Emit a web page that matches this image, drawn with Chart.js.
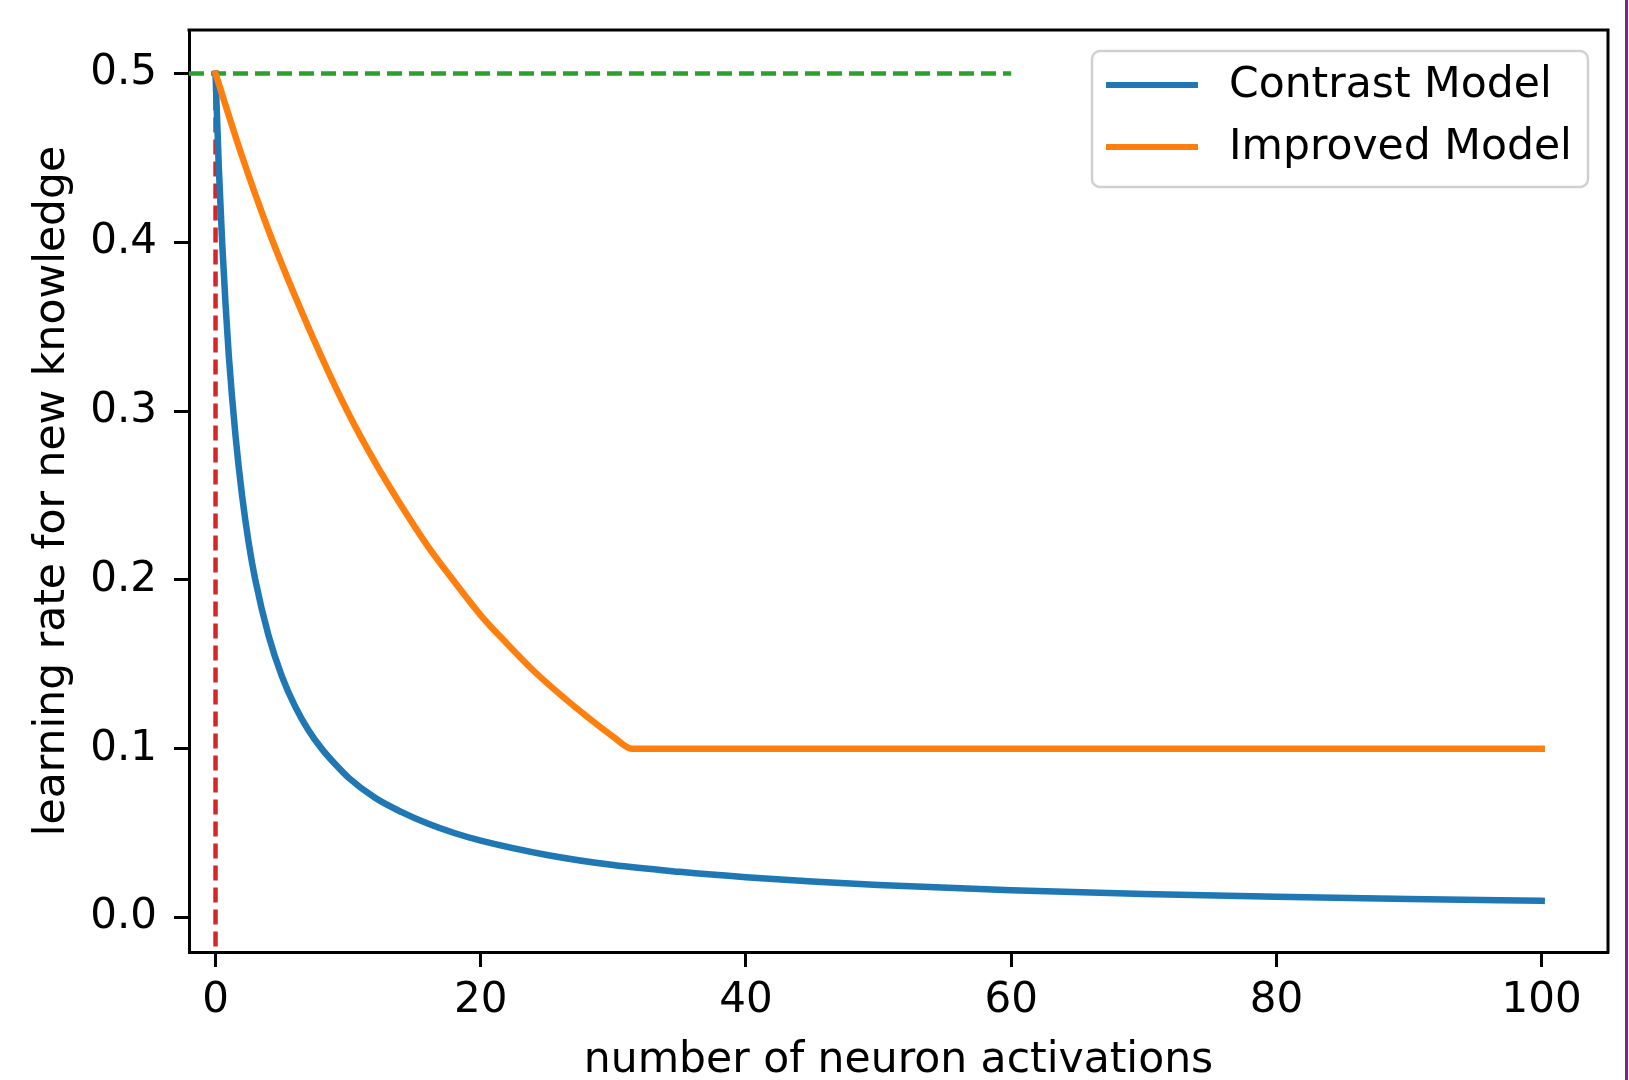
<!DOCTYPE html>
<html><head><meta charset="utf-8">
<script src="https://cdn.jsdelivr.net/npm/chart.js@4.4.0/dist/chart.umd.min.js"></script>
<style>
html,body{margin:0;padding:0;background:#fff;overflow:hidden;}
#wrap{position:relative;width:1629px;height:1080px;background:#fff;}
canvas{display:block;}
#edge{position:absolute;left:1625px;top:0;width:3px;height:1080px;background:#8a1f8a;}
</style></head><body>
<div id="wrap"><canvas id="c" width="1629" height="1080"></canvas><div id="edge"></div></div>
<script>
// ---- data ----
const seriesLabels = ['Contrast Model', 'Improved Model'];
const contrastX = [0, 0.25, 0.5, 0.75, 1, 1.5, 2, 2.5, 3, 4, 5, 6, 7, 8, 9, 10, 12, 14, 16, 18, 20, 25, 30, 35, 40, 45, 50, 60, 70, 80, 90, 100];
const contrastY = [0.5, 0.444, 0.40, 0.364, 0.333, 0.286, 0.25, 0.222, 0.20, 0.167, 0.143, 0.125, 0.111, 0.10, 0.091, 0.083, 0.071, 0.0625, 0.0556, 0.05, 0.0455, 0.037, 0.031, 0.027, 0.0238, 0.0213, 0.0192, 0.0161, 0.0139, 0.0122, 0.0109, 0.0098];
const improvedX = [0, 2, 4, 6, 8, 10, 12, 14, 16, 18, 20, 22, 24, 26, 28, 30, 31.4, 100];
const improvedY = [0.5, 0.451, 0.407, 0.368, 0.332, 0.299, 0.270, 0.244, 0.220, 0.199, 0.179, 0.162, 0.146, 0.132, 0.119, 0.107, 0.100, 0.100];
const refHLineY = 0.5;      // green dashed line level
const refHLineXEnd = 60;    // green dashed line end
const refVLineX = 0;        // red dashed line position
const refVLineTop = 0.5;    // red dashed line top
const xTickValues = [0, 20, 40, 60, 80, 100];
const xTickLabels = ['0', '20', '40', '60', '80', '100'];
const yTickValues = [0.0, 0.1, 0.2, 0.3, 0.4, 0.5];
const yTickLabels = ['0.0', '0.1', '0.2', '0.3', '0.4', '0.5'];
const xTitle = 'number of neuron activations';
const yTitle = 'learning rate for new knowledge';
const xMin = -2, xMax = 105, yMin = -0.0205, yMax = 0.5258;

// ---- styling ----
const FONT = "'DejaVu Sans', sans-serif";
const FS_TICK = 42;
const FS_TITLE = 42.5;
const COLORS = { contrast: '#1f77b4', improved: '#ff7f0e', green: '#2ca02c', red: '#d62728' };

const toPts = (xs, ys) => xs.map((x, i) => ({ x: x, y: ys[i] }));

const boxPlugin = {
  id: 'boxAndLegend',
  afterDraw(chart) {
    const { ctx, chartArea: a } = chart;
    ctx.save();
    // top & right spines
    ctx.strokeStyle = '#000';
    ctx.lineWidth = 3;
    ctx.lineCap = 'square';
    ctx.beginPath();
    ctx.moveTo(a.left, a.top);
    ctx.lineTo(a.right, a.top);
    ctx.lineTo(a.right, a.bottom);
    ctx.stroke();
    // legend
    const bx = 1092, by = 51, bw = 496, bh = 136, r = 8;
    ctx.beginPath();
    ctx.moveTo(bx + r, by);
    ctx.arcTo(bx + bw, by, bx + bw, by + bh, r);
    ctx.arcTo(bx + bw, by + bh, bx, by + bh, r);
    ctx.arcTo(bx, by + bh, bx, by, r);
    ctx.arcTo(bx, by, bx + bw, by, r);
    ctx.closePath();
    ctx.fillStyle = 'rgba(255,255,255,0.85)';
    ctx.fill();
    ctx.strokeStyle = '#d0d0d0';
    ctx.lineWidth = 2.5;
    ctx.stroke();
    const items = [
      { label: seriesLabels[0], color: COLORS.contrast, y: 85 },
      { label: seriesLabels[1], color: COLORS.improved, y: 147 }
    ];
    ctx.font = FS_TITLE + 'px ' + FONT;
    ctx.textBaseline = 'middle';
    ctx.textAlign = 'left';
    items.forEach(it => {
      ctx.strokeStyle = it.color;
      ctx.lineWidth = 6;
      ctx.lineCap = 'butt';
      ctx.beginPath();
      ctx.moveTo(1106, it.y);
      ctx.lineTo(1198, it.y);
      ctx.stroke();
      ctx.fillStyle = '#000';
      ctx.fillText(it.label, 1229, it.y + 1);
    });
    ctx.restore();
  }
};

new Chart(document.getElementById('c'), {
  type: 'line',
  data: {
    datasets: [
      { label: seriesLabels[1], data: toPts(improvedX, improvedY), borderColor: COLORS.improved, borderWidth: 6.5,
        cubicInterpolationMode: 'monotone', pointRadius: 0, fill: false, order: 0, borderCapStyle: 'square' },
      { label: seriesLabels[0], data: toPts(contrastX, contrastY), borderColor: COLORS.contrast, borderWidth: 6.5,
        cubicInterpolationMode: 'monotone', pointRadius: 0, fill: false, order: 1, borderCapStyle: 'square' },
      { label: 'vline', data: [{ x: refVLineX, y: refVLineTop }, { x: refVLineX, y: yMin }], borderColor: COLORS.red,
        borderWidth: 4.5, borderDash: [15, 7], pointRadius: 0, fill: false, order: 2, tension: 0 },
      { label: 'hline', data: [{ x: xMin, y: refHLineY }, { x: refHLineXEnd, y: refHLineY }], borderColor: COLORS.green,
        borderWidth: 4.5, borderDash: [15, 7], pointRadius: 0, fill: false, order: 3, tension: 0 }
    ]
  },
  options: {
    responsive: false,
    animation: false,
    devicePixelRatio: 1,
    layout: { padding: { left: 0, top: 30, right: 21, bottom: 0 } },
    plugins: { legend: { display: false }, tooltip: { enabled: false } },
    scales: {
      x: {
        type: 'linear', min: xMin, max: xMax,
        afterBuildTicks: s => { s.ticks = xTickValues.map(v => ({ value: v })); },
        afterFit: s => { s.height = 128; s.paddingLeft = 0; s.paddingRight = 0; },
        grid: { display: true, drawOnChartArea: false, drawTicks: true, tickLength: 15, tickWidth: 3, tickColor: '#000' },
        border: { display: true, color: '#000', width: 3 },
        ticks: { color: '#000', font: { family: FONT, size: FS_TICK }, padding: 9, maxRotation: 0, autoSkip: false,
          callback: (v, i) => xTickLabels[i] },
        title: { display: true, text: xTitle, color: '#000', font: { family: FONT, size: FS_TITLE, lineHeight: 0.9 }, padding: { top: 0, bottom: 0 } }
      },
      y: {
        type: 'linear', min: yMin, max: yMax,
        afterBuildTicks: s => { s.ticks = yTickValues.map(v => ({ value: v })); },
        afterFit: s => { s.width = 189; s.paddingTop = 0; s.paddingBottom = 0; },
        grid: { display: true, drawOnChartArea: false, drawTicks: true, tickLength: 15, tickWidth: 3, tickColor: '#000' },
        border: { display: true, color: '#000', width: 3 },
        ticks: { color: '#000', font: { family: FONT, size: FS_TICK }, padding: 17, autoSkip: false,
          callback: (v, i) => yTickLabels[i] },
        title: { display: true, text: yTitle, color: '#000', font: { family: FONT, size: FS_TITLE, lineHeight: 0.9 }, padding: { top: 34, bottom: 0 } }
      }
    }
  },
  plugins: [boxPlugin]
});
</script>
</body></html>
